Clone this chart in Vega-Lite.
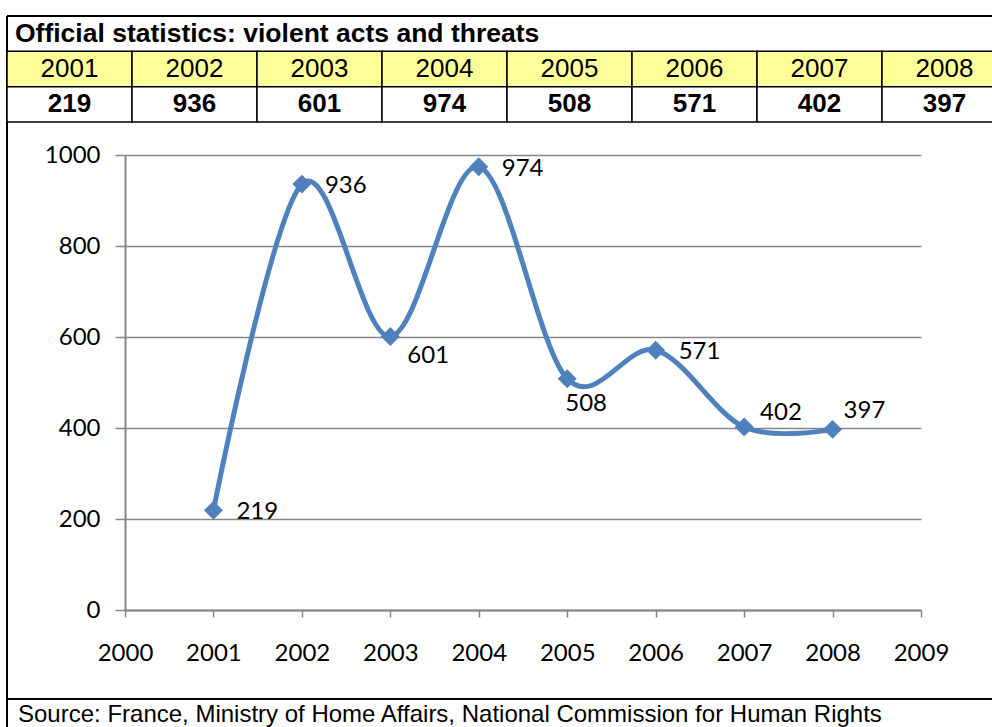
{
  "$schema": "https://vega.github.io/schema/vega-lite/v6.json",
  "width": 985,
  "height": 711,
  "autosize": "none",
  "padding": {"left": 7, "top": 16, "right": 0, "bottom": 0},
  "background": "white",
  "config": {
    "view": {"stroke": "black", "strokeWidth": 2, "strokeDash": [985, 1696, 711, 0]}
  },
  "datasets": {
    "counts": [
      {"year": 2001, "count": 219},
      {"year": 2002, "count": 936},
      {"year": 2003, "count": 601},
      {"year": 2004, "count": 974},
      {"year": 2005, "count": 508},
      {"year": 2006, "count": 571},
      {"year": 2007, "count": 402},
      {"year": 2008, "count": 397}
    ],
    "heading": [{"title": "Official statistics: violent acts and threats"}],
    "note": [{"note": "Source: France, Ministry of Home Affairs, National Commission for Human Rights"}]
  },
  "resolve": {"scale": {"x": "independent", "y": "independent"}},
  "layer": [
    {
      "data": {"name": "counts"},
      "encoding": {
        "x": {"field": "year", "type": "ordinal", "axis": null,
              "scale": {"range": [0, 1000], "paddingInner": 0, "paddingOuter": 0}}
      },
      "layer": [
        {
          "mark": {"type": "rect", "fill": "#FFFF99", "stroke": "black", "strokeWidth": 1.5},
          "encoding": {
            "y": {"datum": "year", "type": "nominal", "axis": null,
                  "scale": {"domain": ["title", "year", "count"], "range": [0, 106], "paddingInner": 0, "paddingOuter": 0}}
          }
        },
        {
          "mark": {"type": "rect", "fill": "white", "stroke": "black", "strokeWidth": 1.5},
          "encoding": {"y": {"datum": "count", "type": "nominal"}}
        },
        {
          "mark": {"type": "text", "font": "Liberation Sans", "fontSize": 26, "baseline": "middle", "color": "black"},
          "encoding": {
            "y": {"datum": "year", "type": "nominal"},
            "text": {"field": "year", "type": "ordinal"}
          }
        },
        {
          "mark": {"type": "text", "font": "Liberation Sans", "fontSize": 26, "fontWeight": "bold", "baseline": "middle", "color": "black"},
          "encoding": {
            "y": {"datum": "count", "type": "nominal"},
            "text": {"field": "count", "type": "quantitative"}
          }
        },
        {
          "data": {"name": "heading"},
          "mark": {"type": "text", "font": "Liberation Sans", "fontSize": 26.5, "fontWeight": "bold", "align": "left", "baseline": "middle", "dx": 8, "color": "black"},
          "encoding": {
            "x": {"datum": 2001, "type": "ordinal", "bandPosition": 0},
            "y": {"datum": "title", "type": "nominal"},
            "text": {"field": "title", "type": "nominal"}
          }
        }
      ]
    },
    {
      "data": {"name": "counts"},
      "encoding": {
        "x": {
          "field": "year", "type": "quantitative",
          "scale": {"domain": [2000, 2009], "range": [118, 914], "nice": false, "zero": false},
          "axis": {
            "orient": "bottom", "offset": -117, "title": null,
            "values": [2000, 2001, 2002, 2003, 2004, 2005, 2006, 2007, 2008, 2009],
            "format": "d", "grid": false, "labelFlush": false, "labelOverlap": false,
            "tickSize": 7, "tickColor": "#868686", "tickWidth": 1.5,
            "domainColor": "#868686", "domainWidth": 2,
            "labelFont": "Lato", "labelFontSize": 24, "labelColor": "black", "labelPadding": 24
          }
        },
        "y": {
          "field": "count", "type": "quantitative",
          "scale": {"domain": [0, 1000], "range": [594, 139], "nice": false, "zero": false},
          "axis": {
            "orient": "left", "offset": -118, "title": null,
            "values": [0, 200, 400, 600, 800, 1000], "format": "d",
            "grid": true, "gridColor": "#868686", "gridWidth": 1.3,
            "labelFlush": false, "labelOverlap": false,
            "tickSize": 10, "tickColor": "#868686", "tickWidth": 1.5,
            "domainColor": "#868686", "domainWidth": 2,
            "labelFont": "Lato", "labelFontSize": 24, "labelColor": "black", "labelPadding": 15
          }
        }
      },
      "layer": [
        {"mark": {"type": "line", "interpolate": "cardinal", "color": "#4F81BD", "strokeWidth": 5}},
        {"mark": {"type": "point", "shape": "diamond", "filled": true, "size": 360, "color": "#4F81BD", "opacity": 1}},
        {
          "transform": [{"filter": {"field": "year", "oneOf": [2001, 2002, 2004, 2006]}}],
          "mark": {"type": "text", "font": "Lato", "fontSize": 24, "align": "left", "baseline": "middle", "dx": 23, "dy": 2, "color": "black"},
          "encoding": {"text": {"field": "count", "type": "quantitative"}}
        },
        {
          "transform": [{"filter": {"field": "year", "equal": 2003}}],
          "mark": {"type": "text", "font": "Lato", "fontSize": 24, "align": "left", "baseline": "middle", "dx": 17, "dy": 19, "color": "black"},
          "encoding": {"text": {"field": "count", "type": "quantitative"}}
        },
        {
          "transform": [{"filter": {"field": "year", "equal": 2005}}],
          "mark": {"type": "text", "font": "Lato", "fontSize": 24, "align": "left", "baseline": "middle", "dx": -2, "dy": 25, "color": "black"},
          "encoding": {"text": {"field": "count", "type": "quantitative"}}
        },
        {
          "transform": [{"filter": {"field": "year", "equal": 2007}}],
          "mark": {"type": "text", "font": "Lato", "fontSize": 24, "align": "left", "baseline": "middle", "dx": 16, "dy": -14, "color": "black"},
          "encoding": {"text": {"field": "count", "type": "quantitative"}}
        },
        {
          "transform": [{"filter": {"field": "year", "equal": 2008}}],
          "mark": {"type": "text", "font": "Lato", "fontSize": 24, "align": "left", "baseline": "middle", "dx": 11, "dy": -18, "color": "black"},
          "encoding": {"text": {"field": "count", "type": "quantitative"}}
        }
      ]
    },
    {
      "data": {"name": "note"},
      "encoding": {
        "x": {"field": "note", "type": "nominal", "axis": null,
              "scale": {"range": [0, 1010], "paddingInner": 0, "paddingOuter": 0}},
        "y": {"field": "note", "type": "nominal", "axis": null,
              "scale": {"range": [683, 760], "paddingInner": 0, "paddingOuter": 0}}
      },
      "layer": [
        {"mark": {"type": "rect", "fill": "white", "stroke": "black", "strokeWidth": 2}},
        {
          "mark": {"type": "text", "font": "Liberation Sans", "fontSize": 24, "align": "left", "baseline": "alphabetic", "dx": 11, "dy": 23, "color": "black"},
          "encoding": {
            "x": {"field": "note", "type": "nominal", "bandPosition": 0},
            "y": {"field": "note", "type": "nominal", "bandPosition": 0},
            "text": {"field": "note", "type": "nominal"}
          }
        }
      ]
    }
  ]
}
